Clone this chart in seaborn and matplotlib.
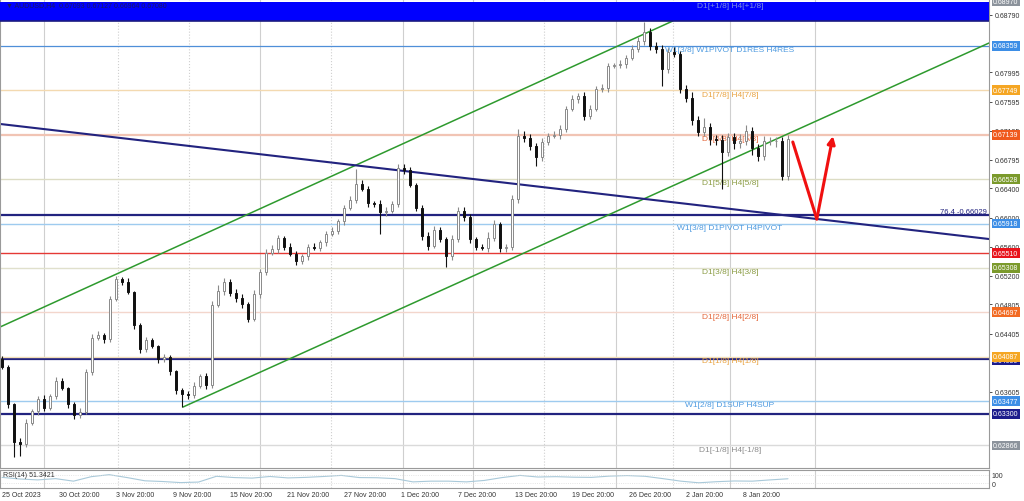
import numpy as np
import pandas as pd
import matplotlib
matplotlib.use("Agg")
import matplotlib.pyplot as plt
import matplotlib.transforms as mtransforms
import seaborn as sns

# ------------------------------------------------------------------ data
first_open = 0.64055
closes = [
    0.63945, 0.63437, 0.62914, 0.62886, 0.63175, 0.63340, 0.63505, 0.63381, 0.63546, 0.63753,
    0.63656, 0.63437, 0.63285, 0.63326, 0.63876, 0.64344, 0.64385, 0.64330, 0.64880, 0.65155,
    0.65114, 0.64977, 0.64523, 0.64193, 0.64317, 0.64234, 0.64055, 0.64083, 0.63890, 0.63629,
    0.63574, 0.63560, 0.63684, 0.63821, 0.63698, 0.64798, 0.64990, 0.65114, 0.64963, 0.64894,
    0.64811, 0.64605, 0.64949, 0.65251, 0.65513, 0.65568, 0.65719, 0.65595, 0.65499, 0.65403,
    0.65472, 0.65595, 0.65582, 0.65664, 0.65774, 0.65815, 0.65953, 0.66131, 0.66242, 0.66462,
    0.66393, 0.66200, 0.66187, 0.66077, 0.66090, 0.66187, 0.66681, 0.66654, 0.66448, 0.66131,
    0.65746, 0.65609, 0.65829, 0.65705, 0.65472, 0.65705, 0.66090, 0.66008, 0.65705, 0.65595,
    0.65582, 0.65719, 0.65911, 0.65582, 0.65595, 0.66255, 0.67121, 0.67094, 0.66984, 0.66833,
    0.67039, 0.67121, 0.67135, 0.67218, 0.67493, 0.67630, 0.67672, 0.67397, 0.67493, 0.67768,
    0.67781, 0.68084, 0.68098, 0.68112, 0.68194, 0.68318, 0.68428, 0.68552, 0.68359, 0.68318,
    0.68043, 0.68276, 0.68249, 0.67768, 0.67644, 0.67341, 0.67176, 0.67245, 0.67080, 0.67066,
    0.66901, 0.67108, 0.67025, 0.67053, 0.67190, 0.66956, 0.66846, 0.67053, 0.67053, 0.67053,
    0.66571, 0.67080,
]
upper_wick_pips = [
    4, 3, 2, 5, 6, 3, 4, 5, 3, 6,
    4, 2, 3, 5, 4, 6, 5, 3, 4, 4,
    3, 5, 2, 3, 4, 3, 2, 4, 3, 2,
    3, 4, 5, 3, 4, 6, 8, 5, 4, 5,
    6, 3, 5, 4, 6, 5, 4, 3, 5, 4,
    3, 4, 5, 3, 4, 5, 3, 4, 5, 21,
    6, 4, 3, 5, 6, 4, 5, 6, 4, 3,
    4, 5, 6, 4, 3, 5, 6, 5, 4, 3,
    4, 8, 5, 3, 4, 6, 10, 7, 5, 4,
    5, 4, 6, 5, 4, 5, 4, 6, 5, 4,
    5, 4, 3, 5, 4, 6, 5, 14, 6, 5,
    6, 5, 7, 4, 5, 8, 6, 12, 5, 6,
    7, 6, 5, 9, 8, 6, 5, 7, 6, 5,
    6, 5,
]
lower_wick_pips = [
    3, 5, 21, 16, 4, 3, 5, 4, 3, 4,
    3, 5, 6, 4, 3, 4, 3, 5, 4, 3,
    4, 3, 5, 6, 4, 3, 5, 4, 6, 5,
    18, 6, 4, 3, 5, 4, 3, 5, 4, 6,
    5, 4, 3, 5, 4, 3, 5, 4, 3, 6,
    4, 5, 3, 4, 5, 3, 4, 5, 3, 4,
    3, 5, 4, 30, 5, 3, 4, 5, 3, 4,
    5, 6, 3, 4, 15, 5, 4, 5, 6, 4,
    3, 5, 4, 6, 5, 4, 5, 6, 5, 12,
    5, 4, 3, 5, 4, 3, 5, 6, 4, 3,
    4, 5, 3, 4, 5, 3, 4, 5, 6, 5,
    23, 5, 4, 6, 5, 7, 6, 5, 8, 7,
    51, 6, 8, 7, 5, 9, 7, 6, 5, 8,
    6, 5,
]
rsi_values = [
    59, 50, 45, 52, 38, 63, 74, 58, 40, 36, 30, 33, 65, 58, 55,
    64, 56, 59, 64, 70, 58, 57, 52, 34, 38, 38, 34, 42, 58, 70,
    61, 63, 60, 59, 66, 69, 65, 52, 38, 29, 35, 39, 38, 45, 51.3421,
]
rsi_label = "RSI(14) 51.3421"
title_text = "\u25bc AUDUSD,H4  0.67093 0.67127 0.66964 0.67080"

x_labels = ["25 Oct 2023", "30 Oct 20:00", "3 Nov 20:00", "9 Nov 20:00", "15 Nov 20:00",
            "21 Nov 20:00", "27 Nov 20:00", "1 Dec 20:00", "7 Dec 20:00", "13 Dec 20:00",
            "19 Dec 20:00", "26 Dec 20:00", "2 Jan 20:00", "8 Jan 20:00"]

price_ticks = [0.68790, 0.67995, 0.67595, 0.67195, 0.66795, 0.66400, 0.66000,
               0.65600, 0.65200, 0.64805, 0.64405, 0.63605]

level_prices = [0.68970, 0.68359, 0.67749, 0.67139, 0.66528, 0.65918, 0.65510,
                0.65308, 0.64697, 0.64050, 0.64087, 0.63477, 0.63300, 0.62866]
band_low = 0.68696

level_label_texts = ["D1[+1/8] H4[+1/8]", "W1[3/8] W1PIVOT D1RES H4RES", "D1[7/8] H4[7/8]",
                     "D1[6/8] H4[6/8]", "D1[5/8] H4[5/8]", "W1[3/8] D1PIVOT H4PIVOT",
                     "D1[3/8] H4[3/8]", "D1[2/8] H4[2/8]", "D1[1/8] H4[1/8]",
                     "W1[2/8] D1SUP H4SUP", "D1[-1/8] H4[-1/8]"]
level_label_prices = [0.68970, 0.68359, 0.67749, 0.67139, 0.66528, 0.65918,
                      0.65308, 0.64697, 0.64087, 0.63477, 0.62866]

fib_price = 0.66029
fib_text = "76.4 -0.66029"

# trend lines (candle index, price)
green_upper_x = [-0.33, 111.8]
green_upper_p = [0.64495, 0.68703]
green_lower_x = [30.17, 164.5]
green_lower_p = [0.63395, 0.68400]
navy_diag_x = [-0.33, 164.5]
navy_diag_p = [0.67287, 0.65705]
arrow_x = [131.8, 135.8, 138.5]
arrow_p = [0.67039, 0.65980, 0.67121]

# ------------------------------------------------------------------ styles
line_styles = {
    0.68359: ("#4f8fd8", 0.9), 0.67749: ("#f3d9b0", 1.0), 0.67139: ("#f1c4b4", 0.9),
    0.66528: ("#dcdcc4", 1.0), 0.65918: ("#9ecbef", 1.0), 0.65510: ("#e53935", 1.0),
    0.65308: ("#e0e0cc", 1.0), 0.64697: ("#f3d6cc", 1.0), 0.64087: ("#f3dfb8", 1.0),
    0.64050: ("#22237f", 1.6), 0.63477: ("#9ecbef", 1.0), 0.63300: ("#22237f", 1.6),
    0.62866: ("#dadada", 1.0),
}
box_colors = {
    0.68970: "#8c939c", 0.68359: "#3d8ee6", 0.67749: "#f5a623", 0.67139: "#f05a1e",
    0.66528: "#7b9a2c", 0.65918: "#3d8ee6", 0.65510: "#e8141c", 0.65308: "#7b9a2c",
    0.64697: "#f26a22", 0.64087: "#f5a623", 0.64050: "#1c1c8c", 0.63477: "#3d8ee6",
    0.63300: "#1c1c8c", 0.62866: "#8c939c",
}
label_colors = ["#7d8fe0", "#4f9be0", "#e9a443", "#e4683c", "#8b9c45", "#4f9be0",
                "#8b9c45", "#e4683c", "#e9a443", "#4f9be0", "#8c8c8c"]

sns.set_style("white")
plt.rcParams["font.family"] = ["Liberation Sans", "DejaVu Sans"]

W, H = 1024, 502
fig = plt.figure(figsize=(W / 100, H / 100), dpi=100)
right_px = 989
ax = fig.add_axes([0, 1 - 469 / H, right_px / W, 469 / H])
ax_rsi = fig.add_axes([0, 1 - 489 / H, right_px / W, 18 / H])

px_per_candle = 6.0
x0 = -2 / px_per_candle
x1 = (right_px - 2) / px_per_candle
ax.set_xlim(x0, x1)
ax_rsi.set_xlim(x0, x1)
ax.set_ylim(0.625565, 0.6900525)

# vertical grid
grid_px = [(44, "-"), (118, ":"), (189, ":"), (260, "-"), (331, ":"), (403, "-"),
           (473, "-"), (544, ":"), (616, "-"), (673, ":"), (730, "-"), (815, "-")]
for gp, ls in grid_px:
    xv = (gp - 2) / px_per_candle
    for a in (ax, ax_rsi):
        a.axvline(xv, color="#cfcfcf", lw=0.8, ls=ls, zorder=0)

# level lines
for p in level_prices:
    if p in line_styles:
        c, lw = line_styles[p]
        if p == 0.67139:
            ax.axhline(p + 0.00004, color=c, lw=lw, zorder=1)
            ax.axhline(p - 0.00004, color=c, lw=lw, zorder=1)
        else:
            ax.axhline(p, color=c, lw=lw, zorder=1)
ax.axhline(fib_price, color="#22237f", lw=1.6, zorder=1.2)

# band
ax.axhspan(band_low, level_prices[0], color="#0000ff", zorder=3, lw=0)
ax.axhline(band_low, color="#1a1a80", lw=1.2, zorder=3.1)

# level labels (under candles)
label_x = (730 - 2) / px_per_candle
for t, p, c in zip(level_label_texts, level_label_prices, label_colors):
    ax.text(label_x, p - 0.00004, t, color=c, fontsize=6, ha="center", va="top",
            zorder=1.1 if p != level_prices[0] else 3.5)
ax.text(x1 - 0.3, fib_price + 0.00003, fib_text, color="#22237f", fontsize=5.5,
        ha="right", va="bottom", zorder=2)

# trend lines
ax.plot(green_upper_x, green_upper_p, color="#2e9a2e", lw=1.1, zorder=2)
ax.plot(green_lower_x, green_lower_p, color="#2e9a2e", lw=1.1, zorder=2)
ax.plot(navy_diag_x, navy_diag_p, color="#22237f", lw=1.5, zorder=2)

# candles
c_arr = np.array(closes)
o_arr = np.r_[first_open, c_arr[:-1]]
idx = np.arange(len(c_arr))
hi = np.maximum(o_arr, c_arr) + np.array(upper_wick_pips) * 1e-4
lo = np.minimum(o_arr, c_arr) - np.array(lower_wick_pips) * 1e-4
bull = c_arr >= o_arr
ax.vlines(idx[bull], lo[bull], hi[bull], color="#8a8a8a", lw=0.8, zorder=4)
ax.vlines(idx[~bull], lo[~bull], hi[~bull], color="#111111", lw=0.8, zorder=4)
body_lo = np.minimum(o_arr, c_arr)
body_h = np.maximum(np.abs(c_arr - o_arr), 0.00003)
ax.bar(idx[bull], body_h[bull], bottom=body_lo[bull], width=0.45, color="white",
       edgecolor="#8a8a8a", lw=0.7, zorder=5)
ax.bar(idx[~bull], body_h[~bull], bottom=body_lo[~bull], width=0.45, color="#111111",
       edgecolor="#111111", lw=0.7, zorder=5)

# red arrow
ax.plot(arrow_x[:2], arrow_p[:2], color="#f01010", lw=2.2, zorder=6, solid_capstyle="round")
ax.annotate("", xy=(arrow_x[2], arrow_p[2]), xytext=(arrow_x[1], arrow_p[1]),
            arrowprops=dict(arrowstyle="-|>", color="#f01010", lw=2.2, mutation_scale=11,
                            shrinkA=0, shrinkB=0), zorder=6)

# title
ax.text(0.006, 0.995, title_text, transform=ax.transAxes, fontsize=5, color="#1a1a60",
        ha="left", va="top", zorder=7)

# price axis
ax.yaxis.tick_right()
ax.set_yticks(price_ticks)
ax.set_yticklabels([f"{p:.5f}" for p in price_ticks])
ax.tick_params(axis="y", labelsize=5, length=2, pad=2, colors="#333333", width=0.6)
ax.tick_params(axis="x", bottom=False, labelbottom=False)
for s in ax.spines.values():
    s.set_color("#9a9a9a")
    s.set_linewidth(0.8)

trans = mtransforms.blended_transform_factory(ax.transAxes, ax.transData)
for p in level_prices:
    yoff = -0.00012 if p == 0.64050 else 0.0
    ax.text(1.004, p + yoff, f"{p:.5f}", transform=trans, fontsize=5, color="white",
            ha="left", va="center", clip_on=False, zorder=10,
            bbox=dict(boxstyle="square,pad=0.2", fc=box_colors[p], ec="none"))

# RSI panel
rsi_df = pd.DataFrame({"i": np.linspace(0, len(closes) - 1, len(rsi_values)),
                       "rsi": rsi_values})
sns.lineplot(data=rsi_df, x="i", y="rsi", ax=ax_rsi, color="#a9c9d9", lw=0.8)
ax_rsi.set_ylim(0, 100)
ax_rsi.axhline(70, color="#dddddd", lw=0.6, ls=":")
ax_rsi.axhline(30, color="#dddddd", lw=0.6, ls=":")
ax_rsi.text(0.003, 0.97, rsi_label, transform=ax_rsi.transAxes, fontsize=5,
            color="#333333", ha="left", va="top")
ax_rsi.set_xlabel("")
ax_rsi.set_ylabel("")
ax_rsi.yaxis.tick_right()
ax_rsi.set_yticks([75, 25])
ax_rsi.set_yticklabels(["100", "0"])
ax_rsi.tick_params(axis="y", labelsize=5, length=0, pad=2, colors="#333333")
tick_pos = np.arange(len(x_labels)) * 9.5
ax_rsi.set_xticks(tick_pos)
ax_rsi.set_xticklabels(x_labels, ha="left")
ax_rsi.tick_params(axis="x", labelsize=5, length=0, pad=2, colors="#333333")
for s in ax_rsi.spines.values():
    s.set_color("#9a9a9a")
    s.set_linewidth(0.8)

fig.savefig("out.png", dpi=100)
